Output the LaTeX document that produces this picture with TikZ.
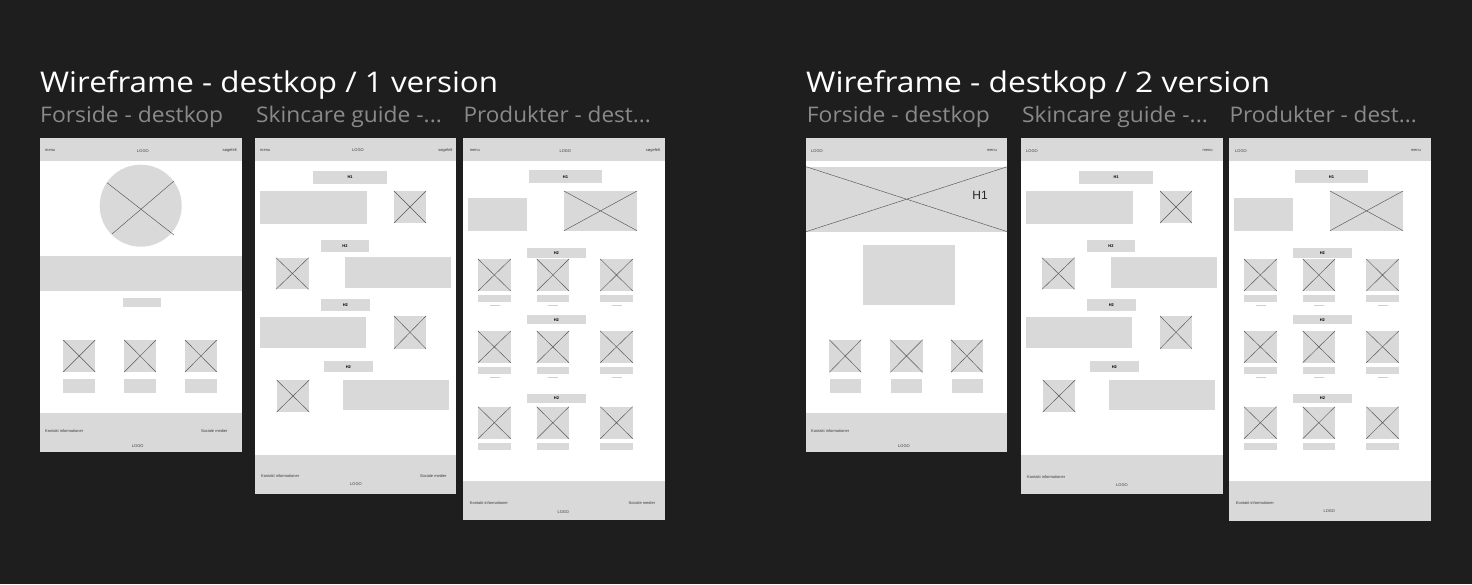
\documentclass[tikz,border=0pt]{standalone}
\usepackage{fontspec}
\setmainfont{Liberation Sans}
\newfontfamily\headfont{Open Sans}
\usepackage{graphicx}

\definecolor{canvas}{HTML}{1E1E1E}
\definecolor{boxgray}{HTML}{D9D9D9}
\definecolor{subgray}{HTML}{8A8A8A}
\definecolor{inkgray}{HTML}{3C3C3C}
\definecolor{xgray}{HTML}{555555}
\definecolor{markgray}{HTML}{CFCFCF}

% stretch a text horizontally to a given width, keeping its height
\newcommand\fitto[2]{\resizebox{#1}{\height}{#2}}

\tikzset{
  title/.style={anchor=base west, inner sep=0, text=white, font=\headfont\fontsize{28.5}{30}\selectfont},
  subtitle/.style={anchor=base west, inner sep=0, text=subgray, font=\headfont\fontsize{21.5}{24}\selectfont},
  page/.style={fill=white},
  band/.style={fill=boxgray},
  xline/.style={draw=xgray, line width=0.45pt},
  tinytext/.style={inner sep=0, text=inkgray, font=\fontsize{4}{5}\selectfont},
  barlabel/.style={inner sep=0, text=black, font=\fontsize{4}{5}\selectfont\bfseries},
  pricemark/.style={draw=markgray, line width=0.6pt},
}

% image placeholder: grey box with a cross
\newcommand\imgx[4]{%
  \fill[band] (#1,#2) rectangle (#3,#4);
  \draw[xline] (#1,#2) -- (#3,#4) (#1,#4) -- (#3,#2);}
% plain grey block
\newcommand\blk[4]{\fill[band] (#1,#2) rectangle (#3,#4);}
% heading bar with its label
\newcommand\headbar[5]{%
  \fill[band] (#1,#2) rectangle (#3,#4);
  \node[barlabel] at ({(#1+#3)/2},{(#2+#4)/2}) {#5};}

% body of the skincare guide page
\newcommand\guidebody{%
  \headbar{313.3}{171}{387}{183.7}{H1}
  \blk{260}{191}{367.3}{224.3}
  \imgx{394}{191}{426}{223}
  \headbar{321}{240}{369}{251.7}{H2}
  \imgx{276}{257.7}{308.7}{289.3}
  \blk{345.3}{257.3}{451.3}{287.7}
  \headbar{321}{299.3}{369.7}{311}{H2}
  \blk{260}{317.3}{365.7}{348}
  \imgx{394}{316}{426}{348.7}
  \headbar{324}{361}{372.7}{372.3}{H2}
  \imgx{276.7}{380}{309.3}{412}
  \blk{343}{380}{449}{410}}

% one row of three products: image top, image bottom, caption top, caption bottom
\newcommand\prodrow[4]{%
  \imgx{478}{#1}{510.7}{#2}
  \imgx{536.7}{#1}{569}{#2}
  \imgx{600.3}{#1}{632.7}{#2}
  \blk{478}{#3}{510.7}{#4}
  \blk{536.7}{#3}{569}{#4}
  \blk{600.3}{#3}{632.7}{#4}}
\newcommand\pricerow[1]{%
  \draw[pricemark] (489.5,#1) -- (499.5,#1) (548,#1) -- (558,#1) (611.5,#1) -- (621.5,#1);}

% body of the product page
\newcommand\productbody{%
  \headbar{529}{170.3}{602}{183}{H1}
  \blk{468}{197.7}{526.7}{230.7}
  \imgx{564}{191}{637}{230.7}
  \headbar{527}{247.7}{585.7}{257.7}{H2}
  \prodrow{259}{291}{295.3}{302.3}
  \pricerow{305.7}
  \headbar{527}{315}{585.7}{324.3}{H2}
  \prodrow{331}{362.7}{366.7}{373.7}
  \pricerow{377}
  \headbar{527}{394}{586}{402.7}{H2}
  \prodrow{406.7}{438.7}{443}{449.7}}

\begin{document}
\begin{tikzpicture}[x=1pt, y=-1pt]
  \fill[canvas] (0,0) rectangle (1472,584);
  \useasboundingbox (0,0) rectangle (1472,584);

  % ---------- version 1 ----------
  \node[title] (t1) at (40,92) {\fitto{458pt}{Wireframe - destkop / 1 version}};
  \node[subtitle] (s11) at (40,122.7) {\fitto{183pt}{Forside - destkop}};
  \node[subtitle] (s12) at (256,122.7) {\fitto{185.7pt}{Skincare guide -...}};
  \node[subtitle] (s13) at (463.3,122.7) {\fitto{187.4pt}{Produkter - dest...}};

  % front page
  \fill[page] (40,138) rectangle (242,452);
  \fill[band] (40,138) rectangle (242,161);
  \node[tinytext, anchor=west] (f1menu) at (45,150) {menu};
  \node[tinytext] (f1logo) at (143,151) {LOGO};
  \node[tinytext, anchor=east] (f1search) at (237,150) {søgefelt};
  \fill[band] (140.7,205.7) circle (41);
  \draw[xline] (107,182.7) -- (174,235) (112,234) -- (174,181);
  \fill[band] (40,255.7) rectangle (242,290.7);
  \blk{123}{298}{161}{307}
  \imgx{63.3}{340}{95.3}{372}
  \imgx{124.3}{340}{156}{372}
  \imgx{185}{340}{216.7}{372}
  \blk{63.3}{379.3}{95.3}{392.7}
  \blk{124.3}{379.3}{156}{392.7}
  \blk{185}{379.3}{216.7}{392.7}
  \fill[band] (40,412.7) rectangle (242,452);
  \node[tinytext, anchor=west] (f1contact) at (45,431) {Kontakt informationer};
  \node[tinytext, anchor=east] (f1social) at (227.7,431) {Sociale medier};
  \node[tinytext] (f1flogo) at (137.7,446) {LOGO};

  % skincare guide page
  \fill[page] (255,138) rectangle (456,494);
  \fill[band] (255,138) rectangle (456,161);
  \node[tinytext, anchor=west] (g1menu) at (260,150) {menu};
  \node[tinytext] (g1logo) at (358,150) {LOGO};
  \node[tinytext, anchor=east] (g1search) at (452.7,150) {søgefelt};
  \guidebody
  \fill[band] (255,455.3) rectangle (456,494);
  \node[tinytext, anchor=west] (g1contact) at (261,476.3) {Kontakt informationer};
  \node[tinytext, anchor=east] (g1social) at (446.7,476.3) {Sociale medier};
  \node[tinytext] (g1flogo) at (356,484.3) {LOGO};

  % product page
  \fill[page] (463.3,138) rectangle (664.7,520);
  \fill[band] (463.3,138) rectangle (664.7,161);
  \node[tinytext, anchor=west] (p1menu) at (469.7,150) {menu};
  \node[tinytext] (p1logo) at (565.3,151) {LOGO};
  \node[tinytext, anchor=east] (p1search) at (660.3,150) {søgefelt};
  \productbody
  \fill[band] (463.3,480.7) rectangle (664.7,520);
  \node[tinytext, anchor=west] (p1contact) at (469.7,502.7) {Kontakt informationer};
  \node[tinytext, anchor=east] (p1social) at (655.3,502.7) {Sociale medier};
  \node[tinytext] (p1flogo) at (563.3,511.7) {LOGO};

  % ---------- version 2 ----------
  \node[title] (t2) at (806,92) {\fitto{464pt}{Wireframe - destkop / 2 version}};
  \node[subtitle] (s21) at (806.7,122.7) {\fitto{183pt}{Forside - destkop}};
  \node[subtitle] (s22) at (1022,122.7) {\fitto{185.7pt}{Skincare guide -...}};
  \node[subtitle] (s23) at (1229.3,122.7) {\fitto{187.4pt}{Produkter - dest...}};

  % front page
  \fill[page] (806,138) rectangle (1007.3,452);
  \fill[band] (806,138) rectangle (1007.3,161);
  \node[tinytext, anchor=west] (f2logo) at (811,151) {LOGO};
  \node[tinytext, anchor=east] (f2menu) at (997,150) {menu};
  \fill[band] (806,166.7) rectangle (1007.3,231.7);
  \draw[xline] (806,166.7) -- (1007.3,231.7) (806,231.7) -- (1007.3,166.7);
  \node[inner sep=0, text=black!85, font=\fontsize{12}{14}\selectfont] (f2h1) at (980,195) {H1};
  \blk{863.3}{245}{954.7}{305}
  \imgx{829.3}{339.7}{861.3}{372.3}
  \imgx{890.3}{339.7}{922.7}{372.3}
  \imgx{951}{339.7}{982.7}{372.3}
  \blk{830}{379}{861}{392.7}
  \blk{891}{379}{922}{392.7}
  \blk{951.7}{379}{983.3}{392.7}
  \fill[band] (806,412.7) rectangle (1007.3,452);
  \node[tinytext, anchor=west] (f2contact) at (811,431) {Kontakt informationer};
  \node[tinytext] (f2flogo) at (904,446.3) {LOGO};

  % skincare guide page
  \fill[page] (1021,138) rectangle (1222.7,494);
  \fill[band] (1021,138) rectangle (1222.7,161);
  \node[tinytext, anchor=west] (g2logo) at (1026,151) {LOGO};
  \node[tinytext, anchor=east] (g2menu) at (1212.7,150) {menu};
  \begin{scope}[xshift=766pt]
    \guidebody
  \end{scope}
  \fill[band] (1021,455) rectangle (1222.7,494);
  \node[tinytext, anchor=west] (g2contact) at (1027,476.7) {Kontakt informationer};
  \node[tinytext] (g2flogo) at (1122,484.7) {LOGO};

  % product page
  \fill[page] (1229.3,138) rectangle (1431.3,520.7);
  \fill[band] (1229.3,138) rectangle (1431.3,161);
  \node[tinytext, anchor=west] (p2logo) at (1235,151) {LOGO};
  \node[tinytext, anchor=east] (p2menu) at (1421,150) {menu};
  \begin{scope}[xshift=766pt]
    \productbody
  \end{scope}
  \fill[band] (1229.3,480.7) rectangle (1431.3,520.7);
  \node[tinytext, anchor=west] (p2contact) at (1235.7,502.7) {Kontakt informationer};
  \node[tinytext] (p2flogo) at (1329.3,511.3) {LOGO};
\end{tikzpicture}
\end{document}
